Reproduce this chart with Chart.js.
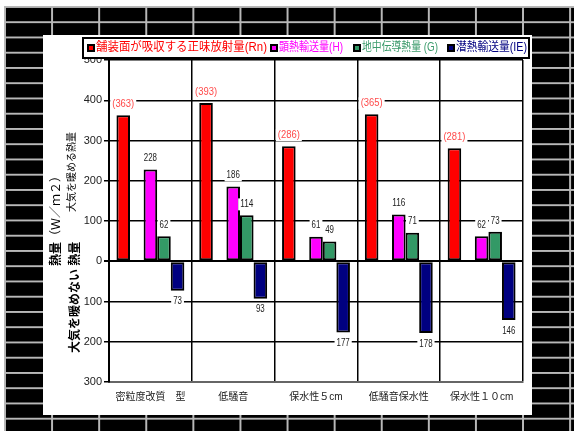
<!DOCTYPE html>
<html>
<head>
<meta charset="utf-8">
<script src="https://cdn.jsdelivr.net/npm/chart.js@4"></script>
<style>
  html, body { margin: 0; padding: 0; background: #fff; }
  #wrap { position: relative; width: 574px; height: 431px; overflow: hidden; background: #fff; }
  #tiles {
    position: absolute; left: 4px; top: 6px; width: 570px; height: 425px;
    background-color: #000;
    background-image:
      linear-gradient(to right, #b8b8b8 2px, transparent 2px),
      linear-gradient(to bottom, #b8b8b8 2px, transparent 2px);
    background-size: 47.1px 15.26px;
  }
  #card { position: absolute; left: 43px; top: 35px; width: 489px; height: 380px; background: #fff; }
  #myChart { position: absolute; left: 0; top: 0; }
</style>
</head>
<body>
<div id="wrap">
  <div id="tiles"></div>
  <div id="card"></div>
  <canvas id="myChart" width="574" height="431"></canvas>
</div>
<script>
// categorias (tipos de pavimento)
const categories = ['密粒度改質　型', '低騒音', '保水性５cm', '低騒音保水性', '保水性１０cm'];

// W/m2 por serie
const netRadiation = [363, 393, 286, 365, 281];   // Rn
const sensibleHeat = [228, 186, 61, 116, 62];     // H
const groundHeat = [62, 114, 49, 71, 73];         // G
const latentHeat = [-73, -93, -177, -178, -146];  // IE

const yMin = -300, yMax = 500, yStep = 100;

const NUM_FONT = "'Liberation Sans Narrow', 'Liberation Sans', Arial, sans-serif";
const JP_FONT = "'Liberation Sans', 'Noto Sans CJK JP', sans-serif";

// etiquetas con el valor encima / debajo de cada barra
const valueLabels = {
  id: 'valueLabels',
  afterDatasetsDraw(chart) {
    const ctx = chart.ctx;
    ctx.save();
    ctx.font = '10px ' + NUM_FONT;
    ctx.textAlign = 'center';
    ctx.textBaseline = 'middle';
    chart.data.datasets.forEach((ds, i) => {
      if (ds.spacer) return;
      chart.getDatasetMeta(i).data.forEach((bar, j) => {
        const v = ds.data[j];
        const txt = i === 0 ? '(' + v + ')' : String(Math.abs(v));
        const y = v >= 0 ? bar.y - 11 : bar.y + 11;
        const w = Math.min(ctx.measureText(txt).width, txt.length * 4.4);
        ctx.fillStyle = '#fff';
        ctx.fillRect(bar.x - w / 2 - 2, y - 6, w + 4, 12);
        ctx.fillStyle = i === 0 ? '#ff4a4a' : '#222';
        ctx.fillText(txt, bar.x, y, w);
      });
    });
    ctx.restore();
  }
};

// leyenda en caja sobre el grafico
const boxLegend = {
  id: 'boxLegend',
  afterDraw(chart) {
    const ctx = chart.ctx;
    ctx.save();
    ctx.fillStyle = '#fff';
    ctx.fillRect(83, 38, 446, 20);
    ctx.strokeStyle = '#000';
    ctx.lineWidth = 2;
    ctx.strokeRect(83, 38, 446, 20);
    const slots = [[87, 171], [270, 64], [353, 76], [447, 71]];
    const items = chart.data.datasets.filter(d => !d.spacer);
    ctx.font = '12px ' + JP_FONT;
    ctx.textBaseline = 'middle';
    items.forEach((ds, k) => {
      const [x, w] = slots[k];
      ctx.fillStyle = '#000';
      ctx.fillRect(x, 44, 8, 8);
      ctx.fillStyle = ds.backgroundColor;
      ctx.fillRect(x + 2, 46, 4, 4);
      ctx.fillStyle = ds.textColor;
      ctx.fillText(ds.label, x + 9, 48, w);
    });
    ctx.restore();
  }
};

// titulos verticales del eje y
const axisTitles = {
  id: 'axisTitles',
  afterDraw(chart) {
    const ctx = chart.ctx;
    ctx.save();
    ctx.fillStyle = '#000';
    ctx.textBaseline = 'middle';
    ctx.textAlign = 'left';

    ctx.save();
    ctx.translate(57, 266);
    ctx.rotate(-Math.PI / 2);
    ctx.font = 'bold 12px ' + JP_FONT;
    ctx.fillText('熱量', 0, 0);
    ctx.font = '12px ' + JP_FONT;
    ctx.fillText('（Ｗ／ｍ２）', 24, 0, 92);
    ctx.restore();

    ctx.save();
    ctx.translate(76, 353);
    ctx.rotate(-Math.PI / 2);
    ctx.font = 'bold 12px ' + JP_FONT;
    ctx.fillText('大気を暖めない 熱量', 0, 0, 118);
    ctx.restore();

    ctx.save();
    ctx.translate(72, 212);
    ctx.rotate(-Math.PI / 2);
    ctx.font = '10px ' + JP_FONT;
    ctx.fillText('大気を暖める熱量', 0, 0, 90);
    ctx.restore();

    ctx.restore();
  }
};

const ctx = document.getElementById('myChart').getContext('2d');
const chart = new Chart(ctx, {
  type: 'bar',
  data: {
    labels: categories,
    datasets: [
      { label: '舗装面が吸収する正味放射量(Rn)', data: netRadiation, backgroundColor: '#ff0000', textColor: '#ff0000' },
      { label: '', data: categories.map(() => null), spacer: true },
      { label: '顕熱輸送量(H)', data: sensibleHeat, backgroundColor: '#ff00ff', textColor: '#ff00ff' },
      { label: '地中伝導熱量 (G)', data: groundHeat, backgroundColor: '#339966', textColor: '#3a9a6a' },
      { label: '潜熱輸送量(IE)', data: latentHeat, backgroundColor: '#000080', textColor: '#000080' }
    ]
  },
  options: {
    responsive: false,
    animation: false,
    categoryPercentage: 0.82,
    barPercentage: 1,
    elements: { bar: { borderColor: '#000', borderWidth: 2, borderSkipped: false } },
    layout: { padding: { left: 0, right: 51, top: 60, bottom: 0 } },
    plugins: { legend: { display: false }, tooltip: { enabled: false } },
    scales: {
      x: {
        grid: {
          offset: true,
          drawTicks: false,
          lineWidth: 1.5,
          color: c => c.index === categories.length ? '#666' : '#000'
        },
        border: { color: '#666', width: 2 },
        ticks: { color: '#222', padding: 9, font: { family: JP_FONT, size: 10 } },
        afterFit: s => { s.height = 49; }
      },
      y: {
        min: yMin,
        max: yMax,
        ticks: {
          stepSize: yStep,
          color: '#222',
          padding: 2,
          font: { family: NUM_FONT, size: 11 },
          callback: v => Math.abs(v)
        },
        grid: {
          tickLength: 5,
          tickColor: '#000',
          lineWidth: c => c.tick && c.tick.value === 0 ? 2 : 1.5,
          color: c => c.tick && c.tick.value === yMin ? '#666' : '#000'
        },
        border: { color: '#000', width: 2 },
        afterFit: s => { s.width = 109; }
      }
    }
  },
  plugins: [valueLabels, axisTitles, boxLegend]
});
</script>
</body>
</html>
